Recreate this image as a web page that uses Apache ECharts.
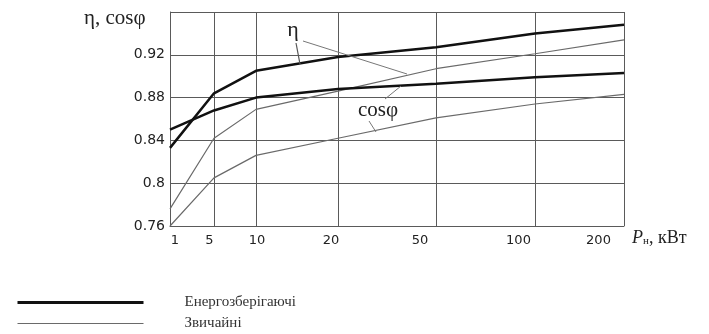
<!DOCTYPE html>
<html>
<head>
<meta charset="utf-8">
<script src="https://cdn.jsdelivr.net/npm/echarts@6/dist/echarts.min.js"></script>
<style>
  html, body { margin: 0; padding: 0; background: #fff; }
  #chart { width: 709px; height: 334px; }
</style>
</head>
<body>
<div id="chart"></div>
<script>
// Rated power categories, kW
const categories = ['1', '5', '10', '20', '50', '100', '200'];
// Non-uniform scale of the original x axis (position of each category along the axis)
const xTickPos = [0, 44, 86, 168, 266, 365, 454];
// Energy-saving motors
const etaSaving = [0.833, 0.884, 0.905, 0.918, 0.927, 0.940, 0.948];
const cosSaving = [0.850, 0.868, 0.880, 0.888, 0.893, 0.899, 0.903];
// Standard motors
const etaStd = [0.776, 0.842, 0.869, 0.886, 0.907, 0.921, 0.934];
const cosStd = [0.760, 0.805, 0.826, 0.842, 0.861, 0.874, 0.883];
// Y axis ticks
const yTicks = [0.76, 0.8, 0.84, 0.88, 0.92];

const nameSaving = 'Енергозберігаючі';
const nameStd = 'Звичайні';

function pts(vals) { return xTickPos.map((x, i) => [x, vals[i]]); }

const gridColor = '#5a5a5a';
const serif = '"Liberation Serif", "DejaVu Serif", serif';
const sans = '"DejaVu Sans", sans-serif';
const labelShift = [5, -4.5, 1, -7, -16, -16.5, -25.5];
const rich = {};
labelShift.forEach((d, i) => {
  rich['s' + i] = {
    fontFamily: sans, fontSize: 13, color: '#222',
    padding: [0, d < 0 ? -2 * d : 0, 0, d > 0 ? 2 * d : 0]
  };
});

const chart = echarts.init(document.getElementById('chart'));
chart.setOption({
  animation: false,
  title: {
    text: 'η, cosφ', left: 84, top: 8, padding: 0,
    textStyle: { fontFamily: serif, fontSize: 21, fontWeight: 'normal', color: '#222' }
  },
  grid: { left: 170, right: 85, top: 12, bottom: 108, containLabel: false },
  legend: {
    orient: 'vertical', left: 16, top: 295, padding: 0,
    itemWidth: 126, itemHeight: 14, itemGap: 6,
    itemStyle: { color: 'transparent', borderColor: 'transparent', borderWidth: 0 },
    textStyle: { fontFamily: serif, fontSize: 15, color: '#333', padding: [0, 0, 0, 36] },
    data: [
      { name: nameSaving, lineStyle: { width: 3, color: '#111' } },
      { name: nameStd, lineStyle: { width: 1.2, color: '#6a6a6a' } }
    ]
  },
  xAxis: {
    type: 'value', min: 0, max: xTickPos[xTickPos.length - 1],
    name: '{p|P}{n|н}{t|, кВт}', nameLocation: 'end', nameGap: 8,
    nameTextStyle: {
      verticalAlign: 'top', padding: [3, 0, 0, 0],
      rich: {
        p: { fontFamily: serif, fontStyle: 'italic', fontSize: 18, color: '#222' },
        n: { fontFamily: serif, fontSize: 11, color: '#222', verticalAlign: 'bottom' },
        t: { fontFamily: serif, fontSize: 18, color: '#222' }
      }
    },
    axisLine: { show: true, lineStyle: { color: gridColor, width: 1 } },
    axisTick: { show: false, customValues: xTickPos },
    axisLabel: {
      customValues: xTickPos, margin: 8,
      formatter: (v) => { const i = xTickPos.indexOf(v); return i < 0 ? '' : '{s' + i + '|' + categories[i] + '}'; },
      rich: rich
    },
    splitLine: { show: true, lineStyle: { color: gridColor, width: 1 } }
  },
  yAxis: {
    type: 'value', min: 0.76, max: 0.96, interval: 0.04,
    axisLine: { show: true, lineStyle: { color: gridColor, width: 1 } },
    axisTick: { show: false },
    axisLabel: {
      margin: 5, fontFamily: sans, fontSize: 14, color: '#222',
      formatter: (v) => yTicks.some(t => Math.abs(t - v) < 1e-6) ? String(+v.toFixed(2)) : ''
    },
    splitLine: { show: true, lineStyle: { color: gridColor, width: 1 } }
  },
  series: [
    { name: nameSaving, type: 'line', data: pts(etaSaving), symbol: 'none', lineStyle: { color: '#111', width: 2.5 }, itemStyle: { color: '#111' }, z: 5 },
    { name: nameSaving, type: 'line', data: pts(cosSaving), symbol: 'none', lineStyle: { color: '#111', width: 2.5 }, itemStyle: { color: '#111' }, z: 5 },
    { name: nameStd, type: 'line', data: pts(etaStd), symbol: 'none', lineStyle: { color: '#6a6a6a', width: 1.2 }, itemStyle: { color: '#6a6a6a' }, z: 4 },
    { name: nameStd, type: 'line', data: pts(cosStd), symbol: 'none', lineStyle: { color: '#6a6a6a', width: 1.2 }, itemStyle: { color: '#6a6a6a' }, z: 4 }
  ],
  graphic: [
    { type: 'text', x: 293, y: 30, z: 10, style: { text: 'η', font: '22px ' + serif, fill: '#222', align: 'center', verticalAlign: 'middle' } },
    { type: 'line', z: 10, shape: { x1: 296, y1: 43, x2: 300, y2: 64 }, style: { stroke: '#555', lineWidth: 1.2 } },
    { type: 'line', z: 10, shape: { x1: 303, y1: 41, x2: 407, y2: 74 }, style: { stroke: '#777', lineWidth: 1 } },
    { type: 'text', x: 378, y: 110, z: 10, style: { text: 'cosφ', font: '21px ' + serif, fill: '#222', align: 'center', verticalAlign: 'middle' } },
    { type: 'line', z: 10, shape: { x1: 385, y1: 99, x2: 401, y2: 86 }, style: { stroke: '#777', lineWidth: 1 } },
    { type: 'line', z: 10, shape: { x1: 369, y1: 121, x2: 376, y2: 132 }, style: { stroke: '#777', lineWidth: 1 } }
  ]
});
</script>
</body>
</html>
